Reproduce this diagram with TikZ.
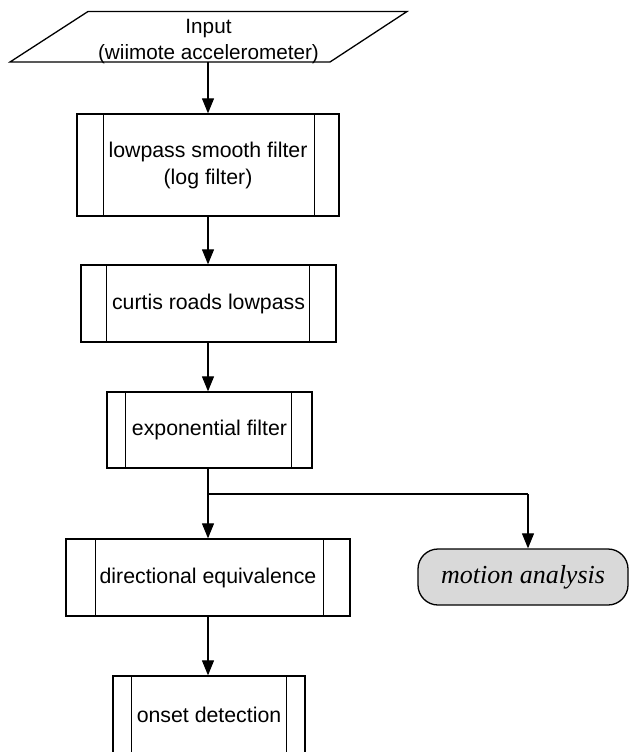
\documentclass[tikz,border=0pt]{standalone}
\usepackage{fontspec}
\setmainfont{Liberation Sans}
\newfontfamily\serifit{Liberation Serif}
\usetikzlibrary{arrows.meta}

\tikzset{
  proc/.style={draw, line width=1.3pt, rectangle, inner sep=0pt, align=center,
    font=\fontsize{21.3}{27}\selectfont},
  term/.style={draw, line width=1.3pt, rectangle, rounded corners=20pt,
    fill=black!15, inner sep=0pt,
    font=\serifit\itshape\fontsize{26}{28}\selectfont},
  flow/.style={line width=1.1pt, -{Triangle[width=12pt,length=15pt]}},
  link/.style={line width=1.1pt},
}

% vertical side bars of a predefined-process box
\newcommand{\sidebars}[3]{%
  \draw[line width=1.3pt] ([xshift=#2pt]#1.north west) -- ([xshift=#2pt]#1.south west);
  \draw[line width=1.3pt] ([xshift=-#3pt]#1.north east) -- ([xshift=-#3pt]#1.south east);
}

\begin{document}
\begin{tikzpicture}[x=1pt, y=-1pt]
\useasboundingbox (0,0) rectangle (629,752);

% input parallelogram
\draw[line width=1.3pt] (88,11.5) -- (407,11.5) -- (330,62) -- (10,62) -- cycle;
\node[inner sep=0pt, minimum width=240pt, minimum height=50.5pt, align=center,
      font=\fontsize{20.7}{26}\selectfont] (input) at (208.5,41.5)
  {Input\\(wiimote accelerometer)};

% processing chain
\node[proc, minimum width=262pt, minimum height=102pt] (b1) at (208,165)
  {lowpass smooth filter\\(log filter)};
\sidebars{b1}{27}{25}

\node[proc, minimum width=255pt, minimum height=77pt] (b2) at (208.5,303.5)
  {curtis roads lowpass};
\sidebars{b2}{26}{27}

\node[proc, minimum width=205pt, minimum height=76pt] (b3) at (209.5,430)
  {exponential filter};
\sidebars{b3}{19}{21}

\node[proc, minimum width=284pt, minimum height=77pt] (b4) at (208,577.5)
  {directional equivalence};
\sidebars{b4}{30}{27}

\node[proc, minimum width=192pt, minimum height=78pt] (b5) at (209,715)
  {onset detection};
\sidebars{b5}{19}{19}

\node[term, minimum width=210pt, minimum height=56pt] (ma) at (523,577)
  {motion analysis};

% connectors
\coordinate (split) at (208,494);
\draw[flow] (208,62) -- (b1.north -| 208,0);
\draw[flow] (b1.south -| 208,0) -- (b2.north -| 208,0);
\draw[flow] (b2.south -| 208,0) -- (b3.north -| 208,0);
\draw[flow] (b3.south -| 208,0) -- (b4.north -| 208,0);
\draw[link] (split) -- (split -| 528,0);
\draw[flow] (split -| 528,0) -- (ma.north -| 528,0);
\draw[flow] (b4.south -| 208,0) -- (b5.north -| 208,0);
\end{tikzpicture}
\end{document}
